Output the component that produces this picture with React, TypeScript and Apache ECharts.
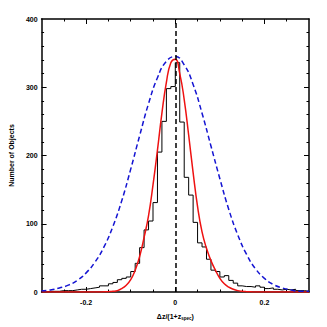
import React, { useEffect, useRef } from "react";
import * as echarts from "echarts";

// Histogram: bins of width 0.01, listed by left edge from -0.30 to 0.29
const binLeftEdges = [
  -0.30, -0.29, -0.28, -0.27, -0.26, -0.25, -0.24, -0.23, -0.22, -0.21,
  -0.20, -0.19, -0.18, -0.17, -0.16, -0.15, -0.14, -0.13, -0.12, -0.11,
  -0.10, -0.09, -0.08, -0.07, -0.06, -0.05, -0.04, -0.03, -0.02, -0.01,
  0.00, 0.01, 0.02, 0.03, 0.04, 0.05, 0.06, 0.07, 0.08, 0.09,
  0.10, 0.11, 0.12, 0.13, 0.14, 0.15, 0.16, 0.17, 0.18, 0.19,
  0.20, 0.21, 0.22, 0.23, 0.24, 0.25, 0.26, 0.27, 0.28, 0.29,
];
const binLastRightEdge = 0.30;
const histCounts = [
  0, 1, 1, 1, 2, 2, 2, 3, 4, 4,
  5, 6, 7, 9, 9, 12, 14, 18, 20, 22,
  30, 42, 65, 91, 104, 131, 205, 250, 298, 301,
  336, 249, 168, 142, 102, 72, 66, 48, 32, 30,
  22, 24, 17, 13, 9, 8, 8, 7, 9, 7,
  5, 6, 4, 3, 4, 3, 4, 2, 2, 1,
];

// Red fit curve (solid)
const redX = [
  -0.30, -0.20, -0.18, -0.17, -0.16, -0.15, -0.14, -0.13, -0.12, -0.11,
  -0.10, -0.09, -0.08, -0.07, -0.06, -0.05, -0.04, -0.03, -0.02, -0.01,
  0.00, 0.01, 0.02, 0.03, 0.04, 0.05, 0.06, 0.07, 0.08, 0.09,
  0.10, 0.11, 0.12, 0.13, 0.14, 0.15, 0.16, 0.17, 0.18, 0.20, 0.30,
];
const redY = [
  0, 0, 0, 0.1, 0.2, 0.5, 1, 2, 5, 10,
  18, 32, 52, 80, 112, 157, 208, 262, 307, 336,
  341, 320, 282, 230, 175, 125, 88, 64, 46, 32,
  20, 12, 7, 4, 2, 1, 0.5, 0.2, 0, 0, 0,
];

// Blue dashed curve
const blueX = [
  -0.30, -0.28, -0.26, -0.24, -0.22, -0.20, -0.18, -0.16, -0.14, -0.12,
  -0.10, -0.08, -0.06, -0.04, -0.02, 0.00, 0.02, 0.04, 0.06, 0.08,
  0.10, 0.12, 0.14, 0.16, 0.18, 0.20, 0.22, 0.24, 0.26, 0.28, 0.30,
];
const blueY = [
  2, 3, 6, 10, 17, 28, 44, 66, 96, 134,
  180, 229, 276, 314, 338, 345, 333, 304, 262, 214,
  166, 121, 84, 55, 34, 20, 11, 6, 3, 1, 1,
];

const xLabelValues = [-0.2, 0, 0.2];
const xMajorTicks = [-0.2, 0, 0.2];
const xMinorTicks = [-0.25, -0.15, -0.1, -0.05, 0.05, 0.1, 0.15, 0.25];
const yLabelValues = [0, 100, 200, 300, 400];
const yMajorTicks = [100, 200, 300];
const yMinorTicks = [20, 40, 60, 80, 120, 140, 160, 180, 220, 240, 260, 280, 320, 340, 360, 380];

const X_MIN = -0.3;
const X_MAX = 0.3;
const Y_MIN = 0;
const Y_MAX = 400;

const FONT = "Liberation Sans";

function makeAxis(
  kind: "x" | "y",
  position: string,
  ticks: number[],
  tickLen: number,
  showLine: boolean,
  labels: number[] | null,
  extra: any = {}
) {
  return {
    type: "value",
    position,
    min: kind === "x" ? X_MIN : Y_MIN,
    max: kind === "x" ? X_MAX : Y_MAX,
    axisLine: { show: showLine, onZero: false, lineStyle: { color: "#000", width: 1.5 } },
    axisTick: {
      show: true,
      inside: true,
      length: tickLen,
      customValues: ticks,
      lineStyle: { color: "#000", width: 1 },
    },
    axisLabel: labels
      ? {
          show: true,
          customValues: labels,
          color: "#000",
          fontFamily: FONT,
          fontWeight: "bold",
          fontSize: 7,
          margin: kind === "x" ? 7 : 4,
          formatter: (v: number) => (kind === "x" ? (v === 0 ? "0" : v.toFixed(1)) : String(v)),
        }
      : { show: false },
    splitLine: { show: false },
    ...extra,
  };
}

export default function App() {
  const ref = useRef<HTMLDivElement>(null);

  useEffect(() => {
    if (!ref.current) return;
    const chart = echarts.init(ref.current, null, { renderer: "svg" });

    const histData: number[][] = binLeftEdges.map((e, i) => [e, histCounts[i]]);
    histData.push([binLastRightEdge, histCounts[histCounts.length - 1]]);

    const redData = redX.map((x, i) => [x, redY[i]]);
    const blueData = blueX.map((x, i) => [x, blueY[i]]);

    chart.setOption({
      animation: false,
      backgroundColor: "#fff",
      grid: { left: 35, top: 19, right: 18, bottom: 35, containLabel: false },
      xAxis: [
        makeAxis("x", "bottom", xMajorTicks, 5, true, xLabelValues, {
          name: "{a|Δz/(1+z}{s|spec}{a|)}",
          nameLocation: "middle",
          nameGap: 19,
          nameTextStyle: {
            color: "#000",
            rich: {
              a: { fontFamily: FONT, fontWeight: "bold", fontSize: 7, color: "#000" },
              s: { fontFamily: FONT, fontWeight: "bold", fontSize: 4.5, color: "#000", padding: [5, 0, 0, 0] },
            },
          },
        }),
        makeAxis("x", "bottom", xMinorTicks, 2.5, false, null),
        makeAxis("x", "top", xMajorTicks, 5, true, null),
        makeAxis("x", "top", xMinorTicks, 2.5, false, null),
      ],
      yAxis: [
        makeAxis("y", "left", yMajorTicks, 5, true, yLabelValues, {
          name: "Number of Objects",
          nameLocation: "middle",
          nameGap: 25,
          nameTextStyle: { color: "#000", fontFamily: FONT, fontWeight: "bold", fontSize: 7 },
        }),
        makeAxis("y", "left", yMinorTicks, 2.5, false, null),
        makeAxis("y", "right", yMajorTicks, 5, true, null),
        makeAxis("y", "right", yMinorTicks, 2.5, false, null),
      ],
      series: [
        {
          type: "line",
          name: "histogram",
          xAxisIndex: 0,
          yAxisIndex: 0,
          step: "end",
          data: histData,
          showSymbol: false,
          symbol: "none",
          lineStyle: { color: "#000", width: 1 },
          z: 2,
        },
        {
          type: "line",
          name: "fit",
          xAxisIndex: 0,
          yAxisIndex: 0,
          smooth: true,
          data: redData,
          symbol: "none",
          lineStyle: { color: "#ee1111", width: 1.5 },
          z: 3,
        },
        {
          type: "line",
          name: "broad",
          xAxisIndex: 0,
          yAxisIndex: 0,
          smooth: true,
          data: blueData,
          symbol: "none",
          lineStyle: { color: "#1414d2", width: 1.5, type: [5, 3] },
          z: 4,
          markLine: {
            silent: true,
            symbol: ["none", "none"],
            label: { show: false },
            lineStyle: { color: "#000", width: 1.5, type: [5, 3] },
            data: [{ xAxis: 0 }],
          },
        },
      ],
    });

    return () => chart.dispose();
  }, []);

  return (
    <div
      ref={ref}
      style={{ position: "absolute", left: 0, top: 0, width: 327, height: 327 }}
    />
  );
}
